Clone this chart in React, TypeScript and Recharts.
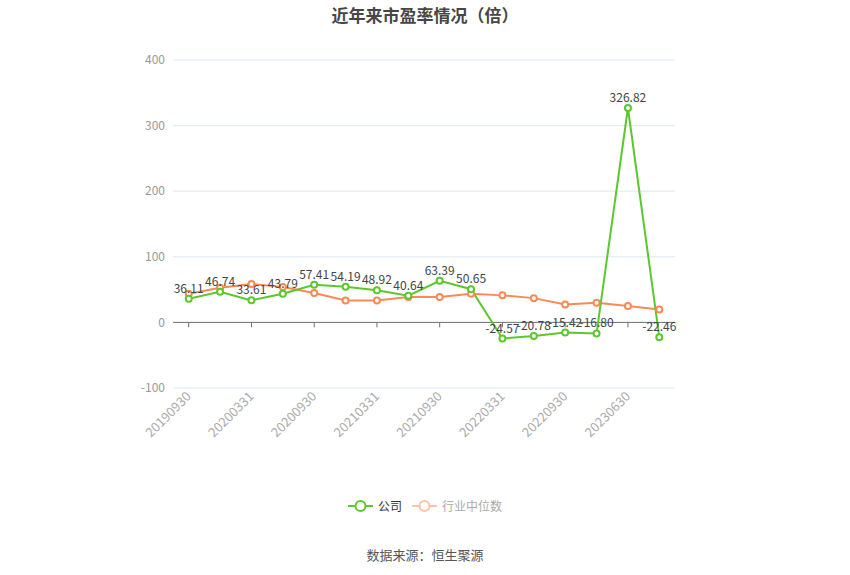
import React from "react";
import {
  LineChart,
  Line,
  XAxis,
  YAxis,
  CartesianGrid,
  LabelList,
  ReferenceLine,
} from "recharts";

const DATES = [
  "20190930", "20191231", "20200331", "20200630", "20200930", "20201231",
  "20210331", "20210630", "20210930", "20211231", "20220331", "20220630",
  "20220930", "20230331", "20230630", "20230930",
];
const COMPANY = [
  36.11, 46.74, 33.61, 43.79, 57.41, 54.19, 48.92, 40.64,
  63.39, 50.65, -24.57, -20.78, -15.42, -16.8, 326.82, -22.46,
];
const INDUSTRY = [
  43.7, 52.9, 58.5, 53.8, 44.7, 33.5, 33.5, 38.6,
  38.6, 43.7, 41.2, 37.0, 27.4, 30.0, 24.9, 19.8,
];
const Y_TICKS = [-100, 0, 100, 200, 300, 400];

const GREEN = "#5cc72e";
const ORANGE = "#fa8a55";
const FONT = "'Noto Sans CJK SC', 'Noto Sans', sans-serif";

const rows = DATES.map((d, i) => ({ date: d, company: COMPANY[i], industry: INDUSTRY[i] }));
const tickDates = DATES.filter((_, i) => i % 2 === 0);

// 45도 기울인 날짜 라벨
function DateTick({ x, y, payload }: any) {
  return (
    <g transform={`translate(${x},${y - 2})`}>
      <text x={0} y={0} dy="0.35em" textAnchor="end" transform="rotate(-45)" fill="#aaa" fontSize={13}>
        {payload.value}
      </text>
    </g>
  );
}

function LegendBox() {
  const item = (color: string, label: string, textColor: string) => (
    <span style={{ display: "inline-flex", alignItems: "center", margin: "0 5px" }}>
      <svg width={25} height={14}>
        <line x1={0} y1={7} x2={25} y2={7} stroke={color} strokeWidth={2} />
        <circle cx={12.5} cy={7} r={5} fill="#fff" stroke={color} strokeWidth={2} />
      </svg>
      <span style={{ marginLeft: 5, fontSize: 12, color: textColor }}>{label}</span>
    </span>
  );
  return (
    <div style={{ position: "absolute", top: 497, left: 0, width: 850, display: "flex", justifyContent: "center" }}>
      {item(GREEN, "公司", "#333")}
      {item("#fcc3a8", "行业中位数", "#aaa")}
    </div>
  );
}

export default function App() {
  return (
    <div style={{ position: "absolute", left: 0, top: 0, width: 850, height: 575, background: "#fff", fontFamily: FONT }}>
      <div style={{ position: "absolute", top: 2, width: 850, textAlign: "center", fontSize: 17, fontWeight: 700, color: "#464646" }}>
        近年来市盈率情况（倍）
      </div>
      <LineChart width={850} height={575} data={rows} margin={{ top: 60, right: 175, bottom: 107, left: 113 }}>
        <CartesianGrid stroke="#e0e6f1" vertical={false} />
        <XAxis
          dataKey="date"
          ticks={tickDates}
          interval={0}
          axisLine={false}
          tickLine={false}
          padding={{ left: 15.7, right: 15.7 }}
          tick={<DateTick />}
          height={80}
        />
        <YAxis
          domain={[-100, 400]}
          ticks={Y_TICKS}
          axisLine={false}
          tickLine={false}
          width={60}
          tick={{ fill: "#999", fontSize: 12 }}
        />
        <ReferenceLine y={0} stroke="#6e7079" />
        {tickDates.map((d) => (
          <ReferenceLine key={d} segment={[{ x: d, y: 0 }, { x: d, y: -7.5 }]} stroke="#6e7079" />
        ))}
        <Line
          dataKey="industry"
          stroke={ORANGE}
          strokeWidth={2}
          dot={{ r: 3, fill: "#fff", stroke: ORANGE, strokeWidth: 2 }}
          isAnimationActive={false}
        />
        <Line
          dataKey="company"
          stroke={GREEN}
          strokeWidth={2}
          dot={{ r: 3, fill: "#fff", stroke: GREEN, strokeWidth: 2 }}
          isAnimationActive={false}
        >
          <LabelList dataKey="company" position="top" offset={6} fill="#444" fontSize={12} formatter={(v: number) => v.toFixed(2)} />
        </Line>
      </LineChart>
      <LegendBox />
      <div style={{ position: "absolute", top: 545, width: 850, textAlign: "center", fontSize: 13, color: "#555" }}>
        数据来源：恒生聚源
      </div>
    </div>
  );
}
